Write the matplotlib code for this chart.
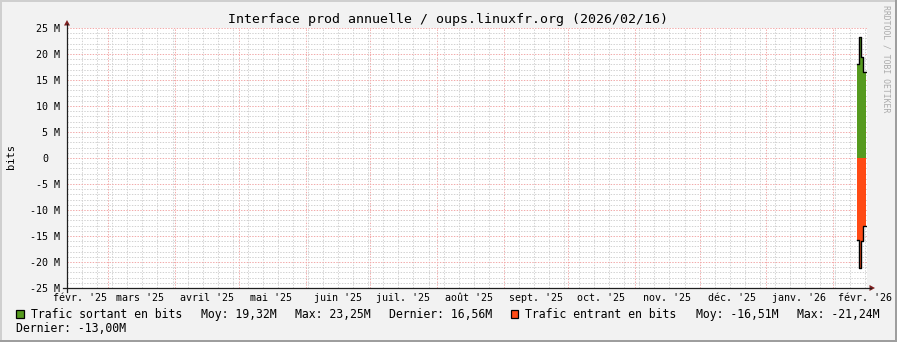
import matplotlib
matplotlib.use("Agg")
import matplotlib.pyplot as plt
import matplotlib.dates as mdates
import matplotlib.transforms as mtrans
from matplotlib.lines import Line2D
from matplotlib.patches import Polygon, Rectangle
import numpy as np

# ---------------- data ----------------
title = "Interface prod annuelle / oups.linuxfr.org (2026/02/16)"
y_label = "bits"
watermark = "RRDTOOL / TOBI OETIKER"

sample_dates = ["2026-02-12T00:00", "2026-02-13T00:00", "2026-02-14T00:00", "2026-02-15T00:00"]
sample_end = "2026-02-16T08:00"
out_mbits = [18.1, 23.25, 19.4, 16.56]     # Trafic sortant (M bits)
in_mbits = [-15.8, -21.24, -16.0, -13.0]   # Trafic entrant (M bits)

x_start = "2025-02-09T22:30"
x_end = "2026-02-16T20:00"

month_starts = ["2025-02-01", "2025-03-01", "2025-04-01", "2025-05-01", "2025-06-01",
                "2025-07-01", "2025-08-01", "2025-09-01", "2025-10-01", "2025-11-01",
                "2025-12-01", "2026-01-01", "2026-02-01"]
month_labels = ["févr. '25", "mars '25", "avril '25", "mai '25", "juin '25", "juil. '25",
                "août '25", "sept. '25", "oct. '25", "nov. '25", "déc. '25", "janv. '26",
                "févr. '26"]
first_monday = "2025-02-10"

y_ticks_m = [-25, -20, -15, -10, -5, 0, 5, 10, 15, 20, 25]

legend_out = ["Trafic sortant en bits", "Moy: 19,32M", "Max: 23,25M", "Dernier: 16,56M"]
legend_in = ["Trafic entrant en bits", "Moy: -16,51M", "Max: -21,24M", "Dernier: -13,00M"]

color_out = "#559A1E"
color_in = "#FF4A14"

# ---------------- figure ----------------
W, H, DPI = 897, 342, 100
MONO = "DejaVu Sans Mono"
fig = plt.figure(figsize=(W / DPI, H / DPI), dpi=DPI, facecolor="#F2F2F2")

def fx(x):
    return x / W

def fy(y):
    return 1 - y / H

# frame shading
fig.add_artist(Rectangle((0, fy(2)), 1, 2 / H, transform=fig.transFigure, color="#CFCFCF", lw=0))
fig.add_artist(Rectangle((0, 0), 2 / W, 1, transform=fig.transFigure, color="#CFCFCF", lw=0))
fig.add_artist(Rectangle((0, 0), 1, 2 / H, transform=fig.transFigure, color="#9E9E9E", lw=0))
fig.add_artist(Rectangle((fx(W - 2), 0), 2 / W, 1, transform=fig.transFigure, color="#9E9E9E", lw=0))

X0, X1, Y0, Y1 = 67, 867, 288, 28
ax = fig.add_axes([fx(X0), fy(Y0), (X1 - X0) / W, (Y0 - Y1) / H])
ax.set_facecolor("white")
for s in ax.spines.values():
    s.set_visible(False)

# grid ticks
mstarts = [np.datetime64(m) for m in month_starts]
weeks = np.arange(np.datetime64(first_monday), np.datetime64("2026-02-17"), np.timedelta64(7, "D"))
ax.set_xticks([mdates.date2num(m) for m in mstarts])
ax.set_xticks([mdates.date2num(w) for w in weeks], minor=True)
ax.set_yticks([v * 1e6 for v in y_ticks_m])
ax.set_yticks([v * 1e6 for v in range(y_ticks_m[0], y_ticks_m[-1] + 1)], minor=True)
ax.set_xticklabels([])
ax.set_yticklabels([])
ax.tick_params(which="both", length=0)
dot = (0, (1.4, 1.4))
ax.grid(which="minor", color="#D2D2D2", linestyle=dot, linewidth=0.72, zorder=0)
ax.grid(which="major", color="#F2ABAB", linestyle=dot, linewidth=0.72, zorder=0.5)
ax.set_axisbelow(True)

# limits (after ticks so they are not expanded)
ax.set_xlim(mdates.date2num(np.datetime64(x_start)), mdates.date2num(np.datetime64(x_end)))
ax.set_ylim(y_ticks_m[0] * 1e6, y_ticks_m[-1] * 1e6)

# data
t = [np.datetime64(d) for d in sample_dates] + [np.datetime64(sample_end)]
tn = mdates.date2num(t)
yo = np.array(out_mbits + [out_mbits[-1]]) * 1e6
yi = np.array(in_mbits + [in_mbits[-1]]) * 1e6
ax.fill_between(tn, 0, yo, step="post", color=color_out, lw=0, zorder=2)
ax.fill_between(tn, 0, yi, step="post", color=color_in, lw=0, zorder=2)
ax.plot(tn, yo, drawstyle="steps-post", color="black", lw=1.0, zorder=3)
ax.plot(tn, yi, drawstyle="steps-post", color="black", lw=1.0, zorder=3)

# y tick labels
def px_offset(dx, dy):
    return mtrans.ScaledTranslation(dx / DPI, -dy / DPI, fig.dpi_scale_trans)

blend_y = mtrans.blended_transform_factory(ax.transAxes, ax.transData)
for v in y_ticks_m:
    if v == 0:
        lab, shift = "0", 19
    else:
        lab, shift = f"{v} M", 7
    ax.text(0, v * 1e6, lab, transform=blend_y + px_offset(-shift, 3.6), ha="right",
            va="baseline", fontsize=7.2, family=MONO, color="black", clip_on=False)

# x labels at mid-month
blend_x = mtrans.blended_transform_factory(ax.transData, ax.transAxes)
for m, lab in zip(mstarts, month_labels):
    mid = m + np.timedelta64(15, "D")
    ax.text(mdates.date2num(mid), 0, lab, transform=blend_x + px_offset(0, 13), ha="center",
            va="baseline", fontsize=7.2, family=MONO, color="black", clip_on=False)

# axes lines and arrows
axis_col = "#1F1F1F"
arrow_col = "#801F1F"
fig.add_artist(Line2D([fx(X0 - 4), fx(X1 + 4)], [fy(Y0), fy(Y0)], transform=fig.transFigure,
                      color=axis_col, lw=0.9))
fig.add_artist(Line2D([fx(X0), fx(X0)], [fy(Y0 + 4), fy(Y1 - 4)], transform=fig.transFigure,
                      color=axis_col, lw=0.9))
fig.add_artist(Polygon([(fx(X1 + 2.5), fy(Y0 - 3)), (fx(X1 + 2.5), fy(Y0 + 3)), (fx(X1 + 8), fy(Y0))],
                       closed=True, transform=fig.transFigure, color=arrow_col, lw=0))
fig.add_artist(Polygon([(fx(X0 - 3), fy(Y1 - 2.5)), (fx(X0 + 3), fy(Y1 - 2.5)), (fx(X0), fy(Y1 - 8))],
                       closed=True, transform=fig.transFigure, color=arrow_col, lw=0))

# title, y label, watermark
fig.text(fx(447.5), fy(23.5), title, ha="center", va="baseline", fontsize=9.5, family=MONO)
fig.text(fx(11), fy(157), y_label, ha="center", va="center", rotation=90, fontsize=7.5, family=MONO)
fig.text(fx(886), fy(59), watermark, ha="center", va="center", rotation=270, fontsize=5.9,
         family=MONO, color="#ABABAB")

# legend
LEG_FS = 8.3
def box(x, color):
    fig.add_artist(Rectangle((fx(x), fy(318)), 7.5 / W, 8.5 / H, transform=fig.transFigure,
                             facecolor=color, edgecolor="black", lw=0.9))

box(16, color_out)
for x, s in zip([30.7, 201, 295, 389], legend_out):
    fig.text(fx(x), fy(318), s, ha="left", va="baseline", fontsize=LEG_FS, family=MONO)
box(510.7, color_in)
for x, s in zip([525, 696, 796.7], legend_in[:3]):
    fig.text(fx(x), fy(318), s, ha="left", va="baseline", fontsize=LEG_FS, family=MONO)
fig.text(fx(16), fy(332), legend_in[3], ha="left", va="baseline", fontsize=LEG_FS, family=MONO)

fig.savefig("out.png", dpi=DPI, facecolor=fig.get_facecolor())
